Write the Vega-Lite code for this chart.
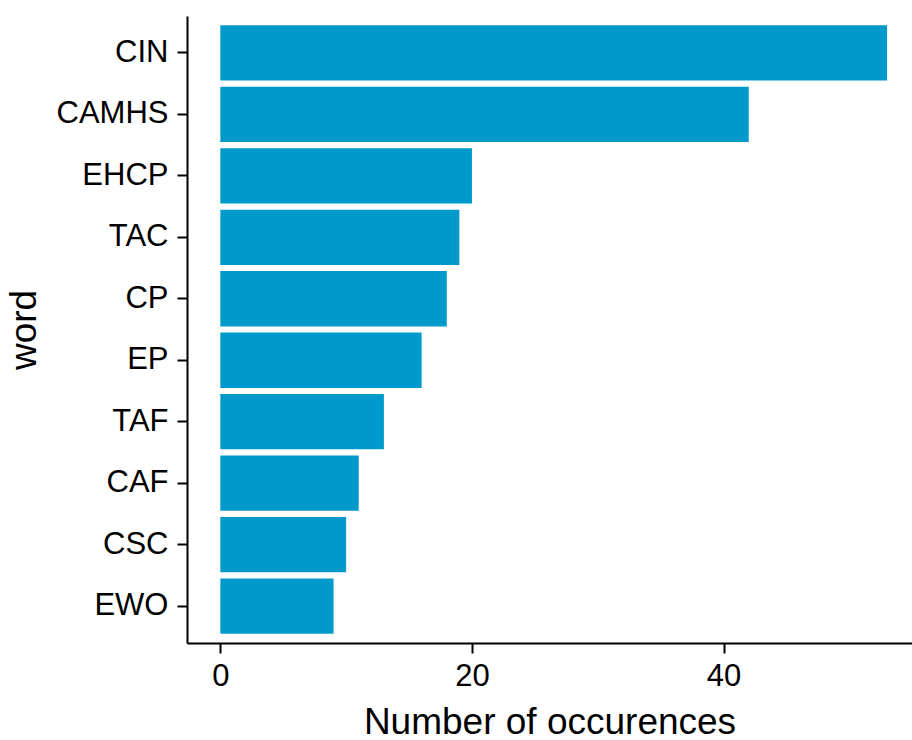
{
  "$schema": "https://vega.github.io/schema/vega-lite/v6.json",
  "autosize": {"type": "none"},
  "width": 725,
  "height": 627,
  "padding": {"left": 187, "top": 16, "right": 0, "bottom": 97},
  "background": "white",
  "config": {
    "font": "Liberation Sans",
    "view": {"stroke": null},
    "axis": {
      "grid": false,
      "domainColor": "black",
      "domainWidth": 2,
      "tickColor": "black",
      "tickWidth": 2,
      "tickSize": 10,
      "labelColor": "black",
      "labelFontSize": 31,
      "labelFont": "Liberation Sans",
      "titleFont": "Liberation Sans",
      "titleFontSize": 37,
      "titleFontWeight": "normal",
      "titleColor": "black"
    }
  },
  "data": {
    "values": [
      {"word": "CIN", "n": 53},
      {"word": "CAMHS", "n": 42},
      {"word": "EHCP", "n": 20},
      {"word": "TAC", "n": 19},
      {"word": "CP", "n": 18},
      {"word": "EP", "n": 16},
      {"word": "TAF", "n": 13},
      {"word": "CAF", "n": 11},
      {"word": "CSC", "n": 10},
      {"word": "EWO", "n": 9}
    ]
  },
  "mark": {"type": "bar", "color": "#0099CC"},
  "encoding": {
    "y": {
      "field": "word",
      "type": "nominal",
      "sort": {"field": "n", "order": "descending"},
      "scale": {"paddingInner": 0.1, "paddingOuter": 0.15},
      "axis": {"title": "word", "labelPadding": 9, "titlePadding": 13}
    },
    "x": {
      "field": "n",
      "type": "quantitative",
      "scale": {"domain": [-2.65, 54.98], "nice": false, "zero": false},
      "axis": {"title": "Number of occurences", "values": [0, 20, 40], "labelPadding": 8, "titlePadding": 13}
    }
  }
}
